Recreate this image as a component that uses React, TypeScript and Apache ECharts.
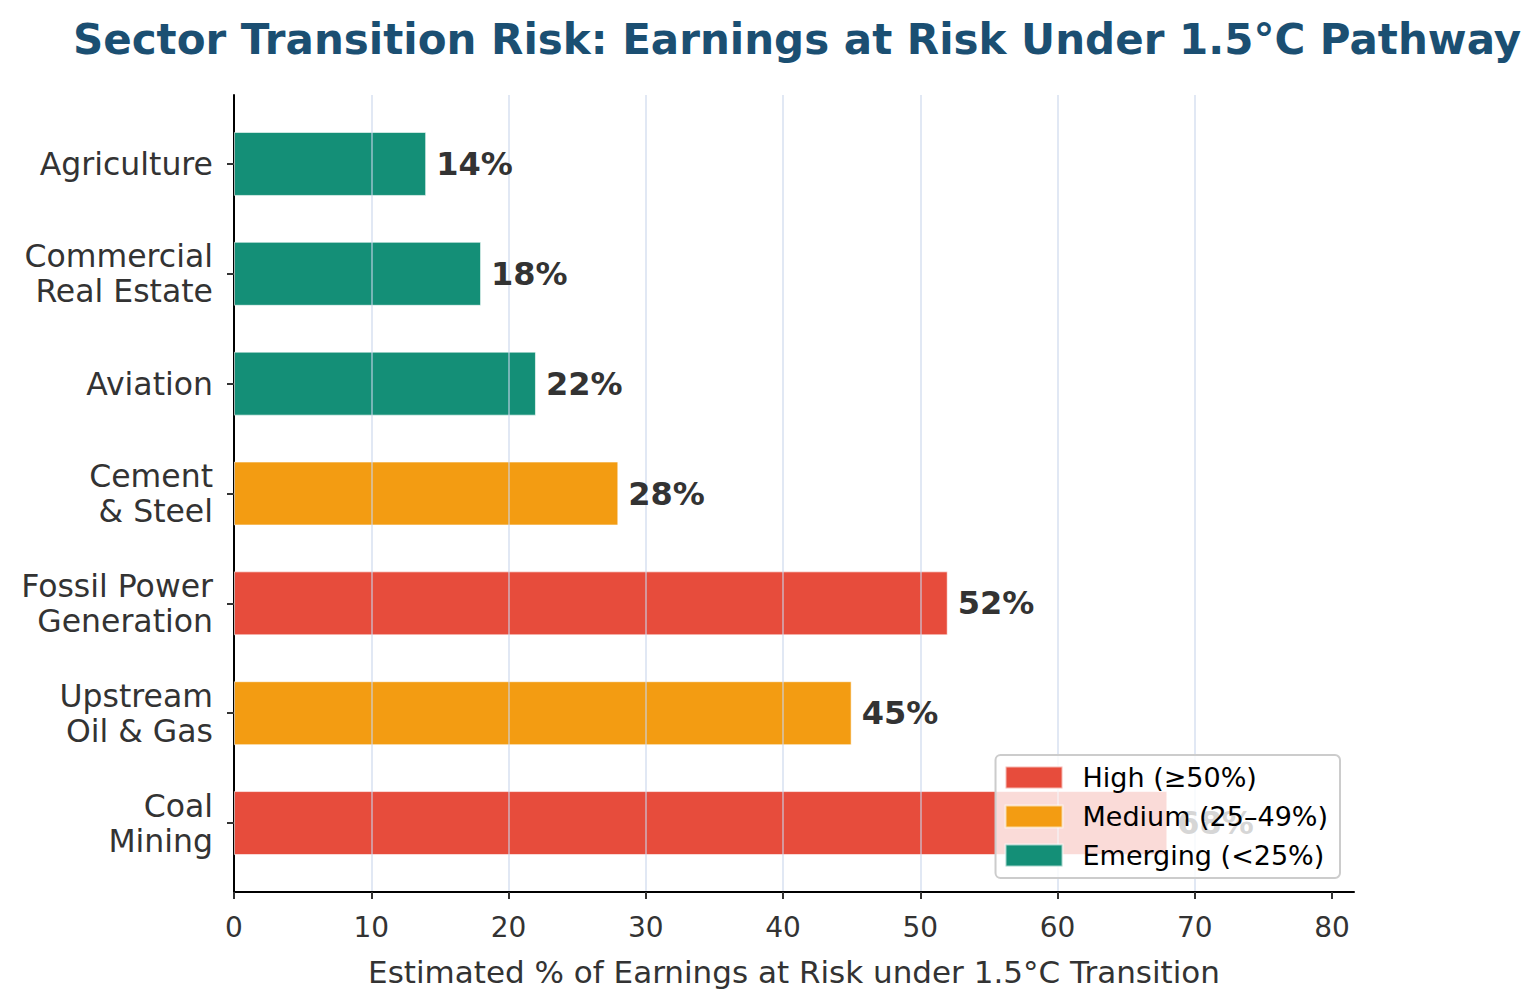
import { useEffect, useRef } from 'react';
import * as echarts from 'echarts';

// sectors, top to bottom
const sectors = [
  'Agriculture',
  'Commercial\nReal Estate',
  'Aviation',
  'Cement\n& Steel',
  'Fossil Power\nGeneration',
  'Upstream\nOil & Gas',
  'Coal\nMining'
];
const earningsAtRisk = [14, 18, 22, 28, 52, 45, 68];
const riskTiers = ['Emerging', 'Emerging', 'Emerging', 'Medium', 'High', 'Medium', 'High'];
const legendNames = ['High (≥50%)', 'Medium (25–49%)', 'Emerging (<25%)'];
const tierKeys = ['High', 'Medium', 'Emerging'];
const tierColors = ['#E74C3C', '#F39C12', '#148F77'];
const xTicks = [0, 10, 20, 30, 40, 50, 60, 70, 80];

const FONT = 'DejaVu Sans';

const App: React.FC = () => {
  const chartRef = useRef<HTMLDivElement>(null);

  useEffect(() => {
    if (!chartRef.current) return;
    const chart = echarts.init(chartRef.current, null, { renderer: 'svg' });
    const xMax = 81.6;

    // coloured bars (grid lines sit on top of these)
    const barSeries = tierKeys.map((tier, i) => ({
      name: legendNames[i],
      type: 'bar' as const,
      xAxisIndex: 1,
      yAxisIndex: 1,
      stack: 'risk',
      barWidth: 64,
      barGap: '-100%',
      z: 2,
      data: earningsAtRisk.map((v, j) => (riskTiers[j] === tier ? v : '-')),
      itemStyle: { color: tierColors[i], borderColor: 'rgba(255,255,255,0.6)', borderWidth: 1 }
    }));

    // invisible bars carrying the value labels above the grid lines
    const labelSeries = {
      name: 'values',
      type: 'bar' as const,
      xAxisIndex: 1,
      yAxisIndex: 1,
      barWidth: 64,
      barGap: '-100%',
      z: 5,
      silent: true,
      data: earningsAtRisk,
      itemStyle: { color: 'rgba(0,0,0,0)' },
      label: {
        show: true,
        position: 'right' as const,
        distance: 10,
        formatter: '{c}%',
        fontFamily: FONT,
        fontSize: 32,
        fontWeight: 'bold' as const,
        color: '#333333'
      }
    };

    chart.setOption({
      animation: false,
      textStyle: { fontFamily: FONT },
      title: {
        text: 'Sector Transition Risk: Earnings at Risk Under 1.5°C Pathway',
        left: 792,
        top: 13,
        textAlign: 'center',
        textStyle: { fontFamily: FONT, fontSize: 42, fontWeight: 'bold', color: '#1B4F72' }
      },
      legend: {
        orient: 'vertical',
        right: 196,
        bottom: 130,
        z: 10,
        data: legendNames,
        icon: 'rect',
        itemWidth: 57,
        itemHeight: 22,
        itemGap: 12,
        padding: [9, 12, 9, 9],
        backgroundColor: 'rgba(255,255,255,0.8)',
        borderColor: '#cccccc',
        borderWidth: 2,
        borderRadius: 5,
        textStyle: { fontFamily: FONT, fontSize: 27, color: '#000000', padding: [0, 0, 0, 15] }
      },
      grid: [
        { left: 234, top: 95, width: 1120, height: 797 },
        { left: 234, top: 109, width: 1120, height: 769 }
      ],
      xAxis: [
        {
          type: 'value',
          gridIndex: 0,
          min: 0,
          max: xMax,
          interval: 10,
          z: 3,
          name: 'Estimated % of Earnings at Risk under 1.5°C Transition',
          nameLocation: 'middle',
          nameGap: 64,
          nameTextStyle: { fontFamily: FONT, fontSize: 31, color: '#333333' },
          axisLine: { show: true, lineStyle: { color: '#000000', width: 2 } },
          axisTick: { show: true, length: 7, customValues: xTicks, lineStyle: { color: '#333333', width: 2 } },
          axisLabel: {
            fontFamily: FONT,
            fontSize: 28,
            color: '#333333',
            margin: 21,
            customValues: xTicks
          },
          splitLine: {
            show: true,
            showMinLine: false,
            showMaxLine: false,
            lineStyle: { color: 'rgba(200,214,235,0.55)', width: 2 }
          }
        },
        { type: 'value', gridIndex: 1, min: 0, max: xMax, show: false }
      ],
      yAxis: [
        {
          type: 'value',
          gridIndex: 0,
          min: 0,
          max: 1,
          axisLine: { show: true, lineStyle: { color: '#000000', width: 2 } },
          axisTick: { show: false },
          axisLabel: { show: false },
          splitLine: { show: false }
        },
        {
          type: 'category',
          gridIndex: 1,
          inverse: true,
          data: sectors,
          axisLine: { show: false },
          axisTick: { show: true, alignWithLabel: true, length: 7, lineStyle: { color: '#333333', width: 2 } },
          axisLabel: {
            fontFamily: FONT,
            fontSize: 31.5,
            color: '#333333',
            margin: 21,
            lineHeight: 35,
            align: 'right',
            padding: [5, 0, 0, 0]
          }
        }
      ],
      series: [...barSeries, labelSeries]
    });

    return () => {
      chart.dispose();
    };
  }, []);

  return (
    <div
      ref={chartRef}
      style={{ position: 'fixed', left: 0, top: 0, width: '1536px', height: '1008px', background: '#ffffff' }}
    />
  );
};

export default App;
